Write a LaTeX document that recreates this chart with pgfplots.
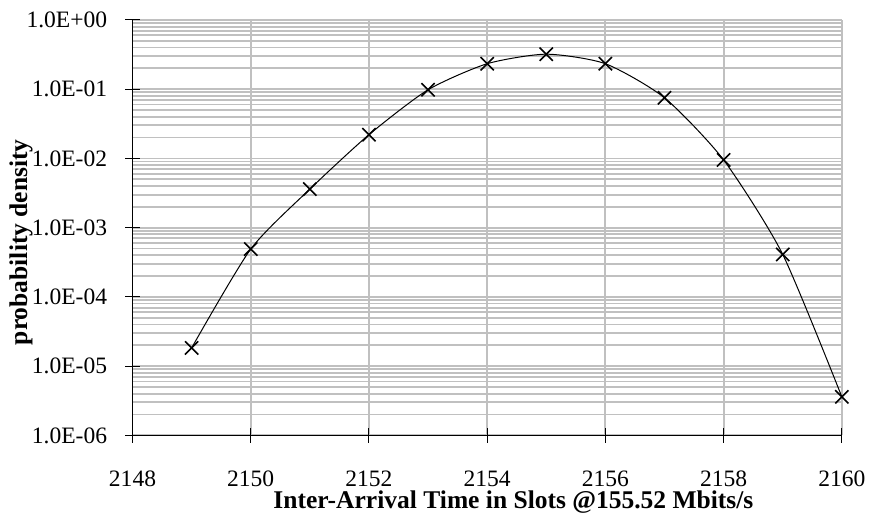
\documentclass[border=0pt]{standalone}
\usepackage{fontspec}
\setmainfont{Liberation Serif}
\usepackage{pgfplots}
\pgfplotsset{compat=1.18}
\definecolor{gridgray}{RGB}{192,192,192}
\begin{document}
\begin{tikzpicture}
\begin{axis}[
  scale only axis,
  width=356pt, height=208.5pt,
  ymode=log,
  xmin=2148, xmax=2160,
  ymin=1e-6, ymax=1,
  xtick={2148,2150,...,2160},
  ytick={1e-6,1e-5,1e-4,1e-3,1e-2,1e-1,1},
  yticklabels={1.0E-06,1.0E-05,1.0E-04,1.0E-03,1.0E-02,1.0E-01,1.0E+00},
  minor ytick={2e-6,3e-6,4e-6,5e-6,6e-6,7e-6,8e-6,9e-6,
               2e-5,3e-5,4e-5,5e-5,6e-5,7e-5,8e-5,9e-5,
               2e-4,3e-4,4e-4,5e-4,6e-4,7e-4,8e-4,9e-4,
               2e-3,3e-3,4e-3,5e-3,6e-3,7e-3,8e-3,9e-3,
               2e-2,3e-2,4e-2,5e-2,6e-2,7e-2,8e-2,9e-2,
               2e-1,3e-1,4e-1,5e-1,6e-1,7e-1,8e-1,9e-1},
  minor tick length=0pt,
  major tick length=7.5pt,
  tick align=center,
  tick style={black, line width=0.5pt},
  xmajorgrids, ymajorgrids, yminorgrids,
  major grid style={gridgray, line width=0.9pt},
  minor grid style={gridgray, line width=0.9pt},
  axis x line*=bottom, axis y line*=left,
  axis line style={-, black, line width=0.5pt},
  /pgf/number format/assume math mode=true,
  /pgf/number format/1000 sep={},
  xticklabel style={yshift=-10.5pt, font=\fontsize{11.8pt}{13pt}\selectfont},
  yticklabel style={xshift=-5.5pt, font=\fontsize{11.8pt}{13pt}\selectfont},
  xlabel={\fontsize{12.8pt}{14pt}\selectfont\textbf{Inter-Arrival Time in Slots @155.52 Mbits/s}},
  ylabel={\fontsize{12.8pt}{14pt}\selectfont\textbf{probability density}},
  every axis x label/.style={at={(axis description cs:0.537,0)}, yshift=-33.5pt, anchor=center, inner sep=0pt},
  every axis y label/.style={at={(axis description cs:0,0.465)}, xshift=-56pt, rotate=90, anchor=center},
  clip=false,
]
\addplot[black, line width=0.5pt, smooth, tension=0.4, mark=x, mark size=4.7pt,
  mark options={line width=0.8pt, solid}] coordinates {
  (2149, 1.83e-5)
  (2150, 4.9e-4)
  (2151, 3.6e-3)
  (2152, 2.2e-2)
  (2153, 9.8e-2)
  (2154, 2.33e-1)
  (2155, 3.2e-1)
  (2156, 2.33e-1)
  (2157, 7.5e-2)
  (2158, 9.5e-3)
  (2159, 4.1e-4)
  (2160, 3.6e-6)
};
\end{axis}
\path[use as bounding box] (-66.5pt,-38pt) rectangle (369.5pt,218.5pt);
\end{tikzpicture}
\end{document}
